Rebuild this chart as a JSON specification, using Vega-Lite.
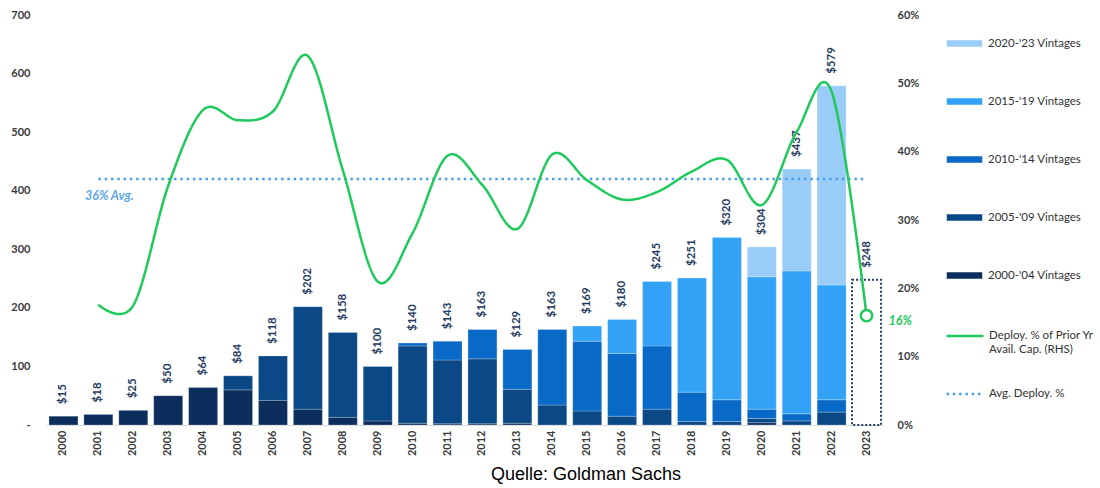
{
  "$schema": "https://vega.github.io/schema/vega-lite/v6.json",
  "width": 838,
  "height": 410,
  "autosize": {"type": "none"},
  "padding": {"left": 46, "top": 15, "right": 216, "bottom": 63},
  "background": "white",
  "config": {
    "view": {"stroke": null},
    "font": "Lato"
  },
  "title": {
    "text": "Quelle: Goldman Sachs",
    "orient": "bottom",
    "anchor": "middle",
    "frame": "group",
    "font": "Liberation Sans",
    "fontSize": 18,
    "fontWeight": "normal",
    "color": "#000000",
    "dx": 121,
    "offset": 10
  },
  "datasets": {
    "bars": [
      {"year": "2000", "vintage": "2000-'04 Vintages", "value": 15},
      {"year": "2001", "vintage": "2000-'04 Vintages", "value": 18},
      {"year": "2002", "vintage": "2000-'04 Vintages", "value": 25},
      {"year": "2003", "vintage": "2000-'04 Vintages", "value": 50},
      {"year": "2004", "vintage": "2000-'04 Vintages", "value": 64},
      {"year": "2005", "vintage": "2000-'04 Vintages", "value": 60},
      {"year": "2005", "vintage": "2005-'09 Vintages", "value": 24},
      {"year": "2006", "vintage": "2000-'04 Vintages", "value": 42},
      {"year": "2006", "vintage": "2005-'09 Vintages", "value": 76},
      {"year": "2007", "vintage": "2000-'04 Vintages", "value": 27},
      {"year": "2007", "vintage": "2005-'09 Vintages", "value": 175},
      {"year": "2008", "vintage": "2000-'04 Vintages", "value": 13},
      {"year": "2008", "vintage": "2005-'09 Vintages", "value": 145},
      {"year": "2009", "vintage": "2000-'04 Vintages", "value": 7},
      {"year": "2009", "vintage": "2005-'09 Vintages", "value": 93},
      {"year": "2010", "vintage": "2000-'04 Vintages", "value": 3},
      {"year": "2010", "vintage": "2005-'09 Vintages", "value": 132},
      {"year": "2010", "vintage": "2010-'14 Vintages", "value": 5},
      {"year": "2011", "vintage": "2000-'04 Vintages", "value": 2},
      {"year": "2011", "vintage": "2005-'09 Vintages", "value": 109},
      {"year": "2011", "vintage": "2010-'14 Vintages", "value": 32},
      {"year": "2012", "vintage": "2000-'04 Vintages", "value": 2},
      {"year": "2012", "vintage": "2005-'09 Vintages", "value": 111},
      {"year": "2012", "vintage": "2010-'14 Vintages", "value": 50},
      {"year": "2013", "vintage": "2000-'04 Vintages", "value": 3},
      {"year": "2013", "vintage": "2005-'09 Vintages", "value": 58},
      {"year": "2013", "vintage": "2010-'14 Vintages", "value": 68},
      {"year": "2014", "vintage": "2005-'09 Vintages", "value": 34},
      {"year": "2014", "vintage": "2010-'14 Vintages", "value": 129},
      {"year": "2015", "vintage": "2005-'09 Vintages", "value": 24},
      {"year": "2015", "vintage": "2010-'14 Vintages", "value": 119},
      {"year": "2015", "vintage": "2015-'19 Vintages", "value": 26},
      {"year": "2016", "vintage": "2005-'09 Vintages", "value": 15},
      {"year": "2016", "vintage": "2010-'14 Vintages", "value": 107},
      {"year": "2016", "vintage": "2015-'19 Vintages", "value": 58},
      {"year": "2017", "vintage": "2005-'09 Vintages", "value": 27},
      {"year": "2017", "vintage": "2010-'14 Vintages", "value": 108},
      {"year": "2017", "vintage": "2015-'19 Vintages", "value": 110},
      {"year": "2018", "vintage": "2005-'09 Vintages", "value": 6},
      {"year": "2018", "vintage": "2010-'14 Vintages", "value": 50},
      {"year": "2018", "vintage": "2015-'19 Vintages", "value": 195},
      {"year": "2019", "vintage": "2005-'09 Vintages", "value": 6},
      {"year": "2019", "vintage": "2010-'14 Vintages", "value": 37},
      {"year": "2019", "vintage": "2015-'19 Vintages", "value": 277},
      {"year": "2020", "vintage": "2000-'04 Vintages", "value": 4},
      {"year": "2020", "vintage": "2005-'09 Vintages", "value": 7},
      {"year": "2020", "vintage": "2010-'14 Vintages", "value": 16},
      {"year": "2020", "vintage": "2015-'19 Vintages", "value": 226},
      {"year": "2020", "vintage": "2020-'23 Vintages", "value": 51},
      {"year": "2021", "vintage": "2005-'09 Vintages", "value": 7},
      {"year": "2021", "vintage": "2010-'14 Vintages", "value": 12},
      {"year": "2021", "vintage": "2015-'19 Vintages", "value": 244},
      {"year": "2021", "vintage": "2020-'23 Vintages", "value": 174},
      {"year": "2022", "vintage": "2005-'09 Vintages", "value": 22},
      {"year": "2022", "vintage": "2010-'14 Vintages", "value": 21},
      {"year": "2022", "vintage": "2015-'19 Vintages", "value": 196},
      {"year": "2022", "vintage": "2020-'23 Vintages", "value": 340}
    ],
    "years": [
      {"year": "2000", "total": 15},
      {"year": "2001", "total": 18, "deploy": 0.176},
      {"year": "2002", "total": 25, "deploy": 0.175},
      {"year": "2003", "total": 50, "deploy": 0.35},
      {"year": "2004", "total": 64, "deploy": 0.461},
      {"year": "2005", "total": 84, "deploy": 0.446},
      {"year": "2006", "total": 118, "deploy": 0.459},
      {"year": "2007", "total": 202, "deploy": 0.54},
      {"year": "2008", "total": 158, "deploy": 0.373},
      {"year": "2009", "total": 100, "deploy": 0.21},
      {"year": "2010", "total": 140, "deploy": 0.281},
      {"year": "2011", "total": 143, "deploy": 0.394},
      {"year": "2012", "total": 163, "deploy": 0.351},
      {"year": "2013", "total": 129, "deploy": 0.287},
      {"year": "2014", "total": 163, "deploy": 0.396},
      {"year": "2015", "total": 169, "deploy": 0.358},
      {"year": "2016", "total": 180, "deploy": 0.33},
      {"year": "2017", "total": 245, "deploy": 0.341},
      {"year": "2018", "total": 251, "deploy": 0.371},
      {"year": "2019", "total": 320, "deploy": 0.388},
      {"year": "2020", "total": 304, "deploy": 0.322},
      {"year": "2021", "total": 437, "deploy": 0.429},
      {"year": "2022", "total": 579, "deploy": 0.488},
      {"year": "2023", "total": 248, "deploy": 0.16}
    ],
    "avg": [
      {"year": "2001", "avg": 0.36, "label": "36% Avg."},
      {"year": "2023", "avg": 0.36}
    ]
  },
  "encoding": {
    "x": {
      "field": "year",
      "type": "ordinal",
      "scale": {"paddingInner": 0.17, "paddingOuter": 0.085},
      "axis": {
        "title": null,
        "labelAngle": -90,
        "labelFont": "Lato",
        "labelFontSize": 11,
        "labelFontWeight": "bold",
        "labelColor": "#3a3a3a",
        "labelPadding": 5,
        "ticks": false,
        "domain": true,
        "domainColor": "#dcdcdc",
        "grid": false
      }
    }
  },
  "layer": [
    {
      "encoding": {
        "y": {
          "type": "quantitative",
          "scale": {"domain": [0, 700]},
          "axis": {
            "orient": "left",
            "title": null,
            "values": [0, 100, 200, 300, 400, 500, 600, 700],
            "labelExpr": "datum.value == 0 ? '-' : datum.label",
            "labelFont": "Lato",
            "labelFontSize": 11,
            "labelFontWeight": "bold",
            "labelColor": "#3a3a3a",
            "labelPadding": 16,
            "ticks": false,
            "domain": false,
            "grid": false
          }
        }
      },
      "layer": [
        {
          "data": {"name": "bars"},
          "mark": {"type": "bar", "stroke": "#ffffff", "strokeWidth": 0.4, "strokeOpacity": 0.6},
          "encoding": {
            "y": {"field": "value", "type": "quantitative", "stack": "zero"},
            "color": {
              "field": "vintage",
              "type": "nominal",
              "scale": {
                "domain": ["2020-'23 Vintages", "2015-'19 Vintages", "2010-'14 Vintages", "2005-'09 Vintages", "2000-'04 Vintages"],
                "range": ["#99CDF8", "#33A2F6", "#0869C6", "#0A4886", "#0B2E5C"]
              },
              "legend": {
                "title": null,
                "orient": "right",
                "offset": 17,
                "padding": 9,
                "symbolSize": 1369,
                "symbolType": "M-1,-0.22H1V0.22H-1Z",
                "rowPadding": 31,
                "labelFont": "Lato",
                "labelFontSize": 11.5,
                "labelColor": "#333333",
                "labelLimit": 400,
                "labelOffset": 4
              }
            },
            "order": {"field": "vintage", "sort": "ascending"}
          }
        },
        {
          "data": {"name": "years"},
          "transform": [{"filter": "datum.year == '2023'"}],
          "mark": {"type": "bar", "fill": null, "fillOpacity": 0, "stroke": "#1F3A60", "strokeWidth": 2, "strokeDash": [2, 2]},
          "encoding": {
            "y": {"field": "total", "type": "quantitative"}
          }
        },
        {
          "data": {"name": "years"},
          "mark": {"type": "text", "angle": 270, "align": "left", "baseline": "middle", "dx": 12, "font": "Lato", "fontSize": 11.5, "fontWeight": "bold", "color": "#1F3A60"},
          "encoding": {
            "y": {"field": "total", "type": "quantitative"},
            "text": {"field": "total", "type": "quantitative", "format": "$d"}
          }
        }
      ]
    },
    {
      "encoding": {
        "y": {
          "type": "quantitative",
          "scale": {"domain": [0, 0.6]},
          "axis": {
            "orient": "right",
            "title": null,
            "values": [0, 0.1, 0.2, 0.3, 0.4, 0.5, 0.6],
            "format": ".0%",
            "labelFont": "Lato",
            "labelFontSize": 11,
            "labelFontWeight": "bold",
            "labelColor": "#3a3a3a",
            "labelPadding": 13,
            "ticks": false,
            "domain": false,
            "grid": false
          }
        }
      },
      "layer": [
        {
          "data": {"name": "avg"},
          "mark": {"type": "line", "strokeWidth": 2.5},
          "encoding": {
            "y": {"field": "avg", "type": "quantitative"},
            "stroke": {
              "datum": "Avg. Deploy. %",
              "scale": {
                "domain": ["Deploy. % of Prior Yr Avail. Cap. (RHS)", "Avg. Deploy. %"],
                "range": ["#1FC95B", "#4A9FE6"]
              },
              "legend": {
                "title": null,
                "orient": "right",
                "offset": 17,
                "padding": 16,
                "symbolType": "stroke",
                "symbolSize": 1369,
                "symbolStrokeWidth": 2.5,
                "symbolOffset": -7,
                "rowPadding": 19,
                "labelFont": "Lato",
                "labelFontSize": 11.5,
                "labelColor": "#333333",
                "labelLimit": 400,
                "labelOffset": 4,
                "labelLineHeight": 13,
                "labelExpr": "datum.label == 'Deploy. % of Prior Yr Avail. Cap. (RHS)' ? ['Deploy. % of Prior Yr', 'Avail. Cap. (RHS)'] : datum.label"
              }
            },
            "strokeDash": {
              "datum": "Avg. Deploy. %",
              "scale": {
                "domain": ["Deploy. % of Prior Yr Avail. Cap. (RHS)", "Avg. Deploy. %"],
                "range": [[1, 0], [2.5, 3.8]]
              },
              "legend": {
                "title": null,
                "orient": "right",
                "offset": 17,
                "padding": 16,
                "symbolType": "stroke",
                "symbolSize": 1369,
                "symbolStrokeWidth": 2.5,
                "symbolOffset": -7,
                "rowPadding": 19,
                "labelFont": "Lato",
                "labelFontSize": 11.5,
                "labelColor": "#333333",
                "labelLimit": 400,
                "labelOffset": 4,
                "labelLineHeight": 13,
                "labelExpr": "datum.label == 'Deploy. % of Prior Yr Avail. Cap. (RHS)' ? ['Deploy. % of Prior Yr', 'Avail. Cap. (RHS)'] : datum.label"
              }
            }
          }
        },
        {
          "data": {"name": "avg"},
          "transform": [{"filter": "datum.label"}],
          "mark": {"type": "text", "align": "center", "baseline": "middle", "dx": 11, "dy": 17, "font": "Lato", "fontSize": 12.5, "fontStyle": "italic", "fontWeight": "bold", "color": "#5AA7E8"},
          "encoding": {
            "y": {"field": "avg", "type": "quantitative"},
            "text": {"field": "label"}
          }
        },
        {
          "data": {"name": "years"},
          "transform": [{"filter": "isValid(datum.deploy)"}],
          "mark": {"type": "line", "strokeWidth": 2.5, "interpolate": "cardinal"},
          "encoding": {
            "y": {"field": "deploy", "type": "quantitative"},
            "stroke": {"datum": "Deploy. % of Prior Yr Avail. Cap. (RHS)"},
            "strokeDash": {"datum": "Deploy. % of Prior Yr Avail. Cap. (RHS)"}
          }
        },
        {
          "data": {"name": "years"},
          "transform": [{"filter": "datum.year == '2023'"}],
          "mark": {"type": "point", "filled": true, "fill": "#ffffff", "stroke": "#1FC95B", "strokeWidth": 2.5, "size": 130, "opacity": 1},
          "encoding": {
            "y": {"field": "deploy", "type": "quantitative"}
          }
        },
        {
          "data": {"name": "years"},
          "transform": [{"filter": "datum.year == '2023'"}],
          "mark": {"type": "text", "align": "left", "baseline": "middle", "dx": 22, "dy": 5, "font": "Lato", "fontSize": 12.5, "fontStyle": "italic", "fontWeight": "bold", "color": "#1FC95B"},
          "encoding": {
            "y": {"field": "deploy", "type": "quantitative"},
            "text": {"field": "deploy", "type": "quantitative", "format": ".0%"}
          }
        }
      ]
    }
  ],
  "resolve": {"scale": {"y": "independent"}}
}
